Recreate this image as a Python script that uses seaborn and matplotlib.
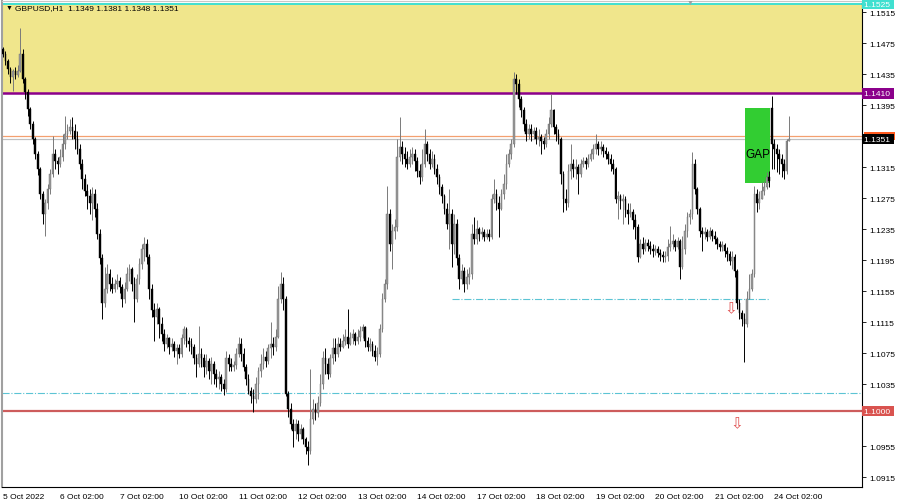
import numpy as np
import matplotlib
matplotlib.use("Agg")
import matplotlib.pyplot as plt
import matplotlib.transforms as mtransforms
from matplotlib.patches import Rectangle
import seaborn as sns

# GBPUSD H1 candles, 5 Oct 2022 -> 24 Oct 2022 08:00 (one value per hour)
first_open = 1.1467
monday_idx = 310        # first bar after the weekend gap
monday_open = 1.1391

closes = [
    1.1461, 1.1452, 1.1442, 1.1431, 1.1439, 1.1434, 1.1439, 1.1461, 1.1429, 1.1412, 1.1390, 1.1371, 1.1351, 1.1332, 1.1313, 1.1280, 1.1255, 1.1268, 1.1287, 1.1306, 1.1332, 1.1323, 1.1319, 1.1328,
    1.1345, 1.1358, 1.1362, 1.1367, 1.1362, 1.1351, 1.1338, 1.1319, 1.1300, 1.1284, 1.1277, 1.1268, 1.1280, 1.1261, 1.1229, 1.1197, 1.1139, 1.1158, 1.1177, 1.1164, 1.1158, 1.1164, 1.1168, 1.1160,
    1.1145, 1.1158, 1.1177, 1.1184, 1.1164, 1.1145, 1.1171, 1.1190, 1.1209, 1.1216, 1.1199, 1.1158, 1.1130, 1.1122, 1.1132, 1.1113, 1.1100, 1.1087, 1.1094, 1.1083, 1.1087, 1.1078, 1.1081, 1.1074,
    1.1094, 1.1106, 1.1091, 1.1087, 1.1083, 1.1068, 1.1061, 1.1074, 1.1068, 1.1057, 1.1065, 1.1052, 1.1061, 1.1048, 1.1042, 1.1044, 1.1035, 1.1029, 1.1068, 1.1061, 1.1057, 1.1060, 1.1074, 1.1087,
    1.1074, 1.1057, 1.1042, 1.1026, 1.1019, 1.1016, 1.1035, 1.1052, 1.1061, 1.1070, 1.1065, 1.1081, 1.1087, 1.1083, 1.1096, 1.1145, 1.1164, 1.1145, 1.1022, 1.1003, 1.0984, 1.0975, 1.0984, 1.0971,
    1.0977, 1.0964, 1.0954, 1.0949, 1.0990, 1.1003, 1.0997, 1.1010, 1.1035, 1.1068, 1.1061, 1.1048, 1.1068, 1.1081, 1.1074, 1.1087, 1.1083, 1.1091, 1.1096, 1.1087, 1.1094, 1.1099, 1.1091, 1.1096,
    1.1104, 1.1109, 1.1091, 1.1083, 1.1087, 1.1078, 1.1070, 1.1074, 1.1106, 1.1145, 1.1164, 1.1255, 1.1216, 1.1233, 1.1238, 1.1328, 1.1341, 1.1332, 1.1325, 1.1319, 1.1328, 1.1332, 1.1323, 1.1310,
    1.1302, 1.1319, 1.1345, 1.1332, 1.1319, 1.1325, 1.1313, 1.1302, 1.1289, 1.1277, 1.1261, 1.1242, 1.1255, 1.1216, 1.1242, 1.1197, 1.1171, 1.1181, 1.1164, 1.1173, 1.1177, 1.1229, 1.1222, 1.1235,
    1.1228, 1.1231, 1.1225, 1.1229, 1.1225, 1.1274, 1.1280, 1.1268, 1.1261, 1.1280, 1.1293, 1.1319, 1.1332, 1.1345, 1.1429, 1.1422, 1.1403, 1.1388, 1.1371, 1.1358, 1.1364, 1.1358, 1.1362, 1.1351,
    1.1354, 1.1349, 1.1345, 1.1358, 1.1371, 1.1388, 1.1367, 1.1358, 1.1351, 1.1306, 1.1274, 1.1268, 1.1310, 1.1319, 1.1313, 1.1315, 1.1306, 1.1319, 1.1323, 1.1319, 1.1325, 1.1332, 1.1338, 1.1345,
    1.1338, 1.1341, 1.1336, 1.1332, 1.1325, 1.1319, 1.1313, 1.1274, 1.1277, 1.1271, 1.1274, 1.1259, 1.1255, 1.1257, 1.1246, 1.1238, 1.1199, 1.1216, 1.1209, 1.1217, 1.1213, 1.1209, 1.1207, 1.1209,
    1.1204, 1.1202, 1.1199, 1.1200, 1.1212, 1.1216, 1.1219, 1.1212, 1.1220, 1.1186, 1.1209, 1.1233, 1.1251, 1.1255, 1.1319, 1.1287, 1.1261, 1.1233, 1.1228, 1.1231, 1.1225, 1.1233, 1.1226, 1.1222,
    1.1216, 1.1212, 1.1215, 1.1207, 1.1203, 1.1194, 1.1199, 1.1181, 1.1139, 1.1126, 1.1119, 1.1113, 1.1145, 1.1158, 1.1177, 1.1280, 1.1268, 1.1274, 1.1284, 1.1289, 1.1302, 1.1297, 1.1345, 1.1338,
    1.1332, 1.1325, 1.1319, 1.1310, 1.1349, 1.1351,
]

highs = [
    1.1470, 1.1465, 1.1455, 1.1444, 1.1442, 1.1444, 1.1447, 1.1495, 1.1467, 1.1431, 1.1416, 1.1393, 1.1375, 1.1354, 1.1336, 1.1315, 1.1284, 1.1274, 1.1293, 1.1313, 1.1355, 1.1338, 1.1328, 1.1338,
    1.1358, 1.1381, 1.1371, 1.1377, 1.1380, 1.1371, 1.1362, 1.1345, 1.1325, 1.1306, 1.1293, 1.1287, 1.1289, 1.1287, 1.1268, 1.1235, 1.1203, 1.1186, 1.1190, 1.1184, 1.1173, 1.1171, 1.1177, 1.1173,
    1.1164, 1.1167, 1.1186, 1.1190, 1.1186, 1.1173, 1.1177, 1.1197, 1.1216, 1.1225, 1.1222, 1.1203, 1.1164, 1.1139, 1.1139, 1.1135, 1.1122, 1.1106, 1.1100, 1.1096, 1.1094, 1.1091, 1.1087, 1.1087,
    1.1100, 1.1110, 1.1109, 1.1096, 1.1094, 1.1087, 1.1074, 1.1110, 1.1081, 1.1074, 1.1074, 1.1068, 1.1070, 1.1065, 1.1055, 1.1052, 1.1048, 1.1042, 1.1078, 1.1074, 1.1068, 1.1065, 1.1081, 1.1096,
    1.1094, 1.1081, 1.1061, 1.1048, 1.1031, 1.1029, 1.1044, 1.1057, 1.1074, 1.1081, 1.1078, 1.1087, 1.1115, 1.1096, 1.1106, 1.1162, 1.1180, 1.1173, 1.1148, 1.1026, 1.1010, 1.0990, 1.0990, 1.0988,
    1.0984, 1.0980, 1.0967, 1.0961, 1.1055, 1.1016, 1.1010, 1.1019, 1.1048, 1.1077, 1.1081, 1.1068, 1.1074, 1.1094, 1.1094, 1.1096, 1.1094, 1.1100, 1.1106, 1.1132, 1.1102, 1.1106, 1.1102, 1.1106,
    1.1110, 1.1113, 1.1110, 1.1096, 1.1094, 1.1091, 1.1085, 1.1083, 1.1113, 1.1152, 1.1171, 1.1291, 1.1261, 1.1242, 1.1248, 1.1351, 1.1380, 1.1349, 1.1341, 1.1336, 1.1338, 1.1341, 1.1338, 1.1328,
    1.1319, 1.1338, 1.1364, 1.1349, 1.1338, 1.1336, 1.1332, 1.1319, 1.1306, 1.1293, 1.1280, 1.1268, 1.1287, 1.1261, 1.1255, 1.1248, 1.1203, 1.1190, 1.1186, 1.1184, 1.1186, 1.1242, 1.1251, 1.1246,
    1.1238, 1.1238, 1.1235, 1.1235, 1.1235, 1.1280, 1.1300, 1.1287, 1.1277, 1.1287, 1.1306, 1.1332, 1.1338, 1.1351, 1.1438, 1.1435, 1.1429, 1.1406, 1.1393, 1.1377, 1.1371, 1.1371, 1.1367, 1.1367,
    1.1364, 1.1358, 1.1354, 1.1364, 1.1380, 1.1409, 1.1390, 1.1371, 1.1364, 1.1354, 1.1310, 1.1287, 1.1319, 1.1345, 1.1325, 1.1325, 1.1319, 1.1325, 1.1328, 1.1328, 1.1332, 1.1338, 1.1345, 1.1357,
    1.1349, 1.1348, 1.1345, 1.1341, 1.1336, 1.1332, 1.1325, 1.1315, 1.1284, 1.1280, 1.1280, 1.1277, 1.1268, 1.1268, 1.1261, 1.1255, 1.1242, 1.1222, 1.1225, 1.1222, 1.1222, 1.1219, 1.1216, 1.1215,
    1.1213, 1.1209, 1.1207, 1.1207, 1.1222, 1.1239, 1.1229, 1.1222, 1.1225, 1.1222, 1.1226, 1.1242, 1.1257, 1.1261, 1.1335, 1.1325, 1.1289, 1.1264, 1.1238, 1.1238, 1.1235, 1.1238, 1.1235, 1.1233,
    1.1225, 1.1220, 1.1220, 1.1217, 1.1212, 1.1207, 1.1207, 1.1203, 1.1184, 1.1145, 1.1130, 1.1126, 1.1155, 1.1177, 1.1184, 1.1291, 1.1287, 1.1284, 1.1296, 1.1297, 1.1309, 1.1310, 1.1407, 1.1351,
    1.1345, 1.1338, 1.1332, 1.1325, 1.1351, 1.1381,
]

lows = [
    1.1457, 1.1447, 1.1435, 1.1424, 1.1413, 1.1429, 1.1431, 1.1437, 1.1424, 1.1403, 1.1381, 1.1364, 1.1345, 1.1325, 1.1305, 1.1274, 1.1242, 1.1226, 1.1261, 1.1280, 1.1302, 1.1313, 1.1306, 1.1315,
    1.1323, 1.1338, 1.1351, 1.1358, 1.1351, 1.1338, 1.1332, 1.1313, 1.1287, 1.1277, 1.1261, 1.1255, 1.1246, 1.1251, 1.1222, 1.1190, 1.1119, 1.1135, 1.1152, 1.1155, 1.1152, 1.1154, 1.1158, 1.1153,
    1.1135, 1.1139, 1.1155, 1.1168, 1.1155, 1.1115, 1.1141, 1.1164, 1.1184, 1.1194, 1.1190, 1.1145, 1.1122, 1.1091, 1.1113, 1.1094, 1.1091, 1.1078, 1.1081, 1.1074, 1.1077, 1.1070, 1.1061, 1.1068,
    1.1070, 1.1087, 1.1083, 1.1078, 1.1074, 1.1061, 1.1044, 1.1057, 1.1057, 1.1044, 1.1048, 1.1042, 1.1035, 1.1035, 1.1031, 1.1029, 1.1026, 1.1021, 1.1025, 1.1052, 1.1052, 1.1052, 1.1055, 1.1070,
    1.1065, 1.1052, 1.1034, 1.1022, 1.1011, 1.0999, 1.1010, 1.1016, 1.1044, 1.1055, 1.1057, 1.1061, 1.1068, 1.1073, 1.1078, 1.1094, 1.1139, 1.1130, 1.1019, 1.0993, 1.0977, 1.0954, 1.0964, 1.0962,
    1.0964, 1.0957, 1.0945, 1.0930, 1.0945, 1.0984, 1.0988, 1.0993, 1.1006, 1.1029, 1.1048, 1.1042, 1.1044, 1.1061, 1.1065, 1.1070, 1.1077, 1.1081, 1.1085, 1.1081, 1.1085, 1.1087, 1.1085, 1.1087,
    1.1091, 1.1094, 1.1083, 1.1078, 1.1077, 1.1071, 1.1065, 1.1059, 1.1070, 1.1102, 1.1141, 1.1158, 1.1207, 1.1184, 1.1222, 1.1233, 1.1323, 1.1319, 1.1315, 1.1313, 1.1315, 1.1319, 1.1310, 1.1302,
    1.1293, 1.1297, 1.1315, 1.1323, 1.1313, 1.1315, 1.1306, 1.1293, 1.1280, 1.1268, 1.1255, 1.1235, 1.1209, 1.1186, 1.1203, 1.1188, 1.1158, 1.1164, 1.1154, 1.1158, 1.1164, 1.1171, 1.1216, 1.1216,
    1.1220, 1.1222, 1.1220, 1.1222, 1.1220, 1.1222, 1.1268, 1.1259, 1.1225, 1.1259, 1.1274, 1.1287, 1.1315, 1.1325, 1.1341, 1.1409, 1.1393, 1.1380, 1.1362, 1.1349, 1.1351, 1.1349, 1.1351, 1.1345,
    1.1342, 1.1332, 1.1338, 1.1341, 1.1351, 1.1367, 1.1358, 1.1349, 1.1345, 1.1293, 1.1257, 1.1259, 1.1264, 1.1300, 1.1302, 1.1300, 1.1280, 1.1302, 1.1315, 1.1313, 1.1315, 1.1323, 1.1325, 1.1332,
    1.1331, 1.1332, 1.1328, 1.1325, 1.1319, 1.1310, 1.1306, 1.1268, 1.1248, 1.1261, 1.1242, 1.1251, 1.1242, 1.1251, 1.1235, 1.1222, 1.1193, 1.1197, 1.1203, 1.1207, 1.1207, 1.1203, 1.1199, 1.1202,
    1.1199, 1.1194, 1.1193, 1.1193, 1.1194, 1.1207, 1.1209, 1.1206, 1.1209, 1.1171, 1.1184, 1.1203, 1.1225, 1.1242, 1.1248, 1.1280, 1.1255, 1.1225, 1.1206, 1.1222, 1.1220, 1.1222, 1.1219, 1.1216,
    1.1209, 1.1206, 1.1207, 1.1199, 1.1194, 1.1188, 1.1184, 1.1173, 1.1132, 1.1119, 1.1110, 1.1064, 1.1109, 1.1145, 1.1155, 1.1173, 1.1257, 1.1261, 1.1274, 1.1279, 1.1287, 1.1289, 1.1313, 1.1313,
    1.1309, 1.1306, 1.1302, 1.1300, 1.1306, 1.1348,
]

# x axis: bar index of each day label
tick_pos = [0, 23, 47, 71, 95, 119, 143, 167, 191, 215, 239, 263, 287, 311]
tick_labels = ['5 Oct 2022', '6 Oct 02:00', '7 Oct 02:00', '10 Oct 02:00', '11 Oct 02:00',
               '12 Oct 02:00', '13 Oct 02:00', '14 Oct 02:00', '17 Oct 02:00', '18 Oct 02:00',
               '19 Oct 02:00', '20 Oct 02:00', '21 Oct 02:00', '24 Oct 02:00']
price_ticks = [1.0915, 1.0955, 1.0995, 1.1035, 1.1075, 1.1115, 1.1155, 1.1195,
               1.1235, 1.1275, 1.1315, 1.1355, 1.1395, 1.1435, 1.1475, 1.1515]

# levels drawn on the chart
zone_low, zone_high = 1.1410, 1.1525
support = 1.1000
bid, ask = 1.1351, 1.1355
dashdot_low = 1.1023
dashdot_mid = 1.1145
gap_top, gap_bottom = 1.1391, 1.1294

sns.set_style("white")
plt.rcParams['font.family'] = ['Liberation Sans', 'DejaVu Sans']

closes = np.array(closes)
highs = np.array(highs)
lows = np.array(lows)
opens = np.concatenate([[first_open], closes[:-1]])
opens[monday_idx] = monday_open
x = np.arange(len(closes))
up = closes >= opens

fig = plt.figure(figsize=(9, 5.02), dpi=100)
ax = fig.add_axes([2 / 900, 14 / 502, 860 / 900, 486 / 502])

# resistance zone and levels
ax.axhspan(zone_low, zone_high, color='#f0e68c', zorder=0, lw=0)
ax.axhline(zone_high, color='#40e0d0', lw=1.4, zorder=1)
ax.axhline(zone_low, color='#8b008b', lw=1.8, zorder=1)
ax.axhline(support, color='#cd5c5c', lw=1.6, zorder=1)
ax.axhline(ask, color='#f4a070', lw=0.9, zorder=1)
ax.axhline(bid, color='#c0c0c0', lw=0.9, zorder=1)
ax.axhline(dashdot_low, color='#5cc4d4', lw=0.8, ls='-.', zorder=1)
ax.hlines(dashdot_mid, 181, 309, color='#5cc4d4', lw=0.8, ls='-.', zorder=1)

# gap box
ax.add_patch(Rectangle((299.2, gap_bottom), 10.1, gap_top - gap_bottom,
                       facecolor='#32cd32', edgecolor='none', zorder=1.5))
ax.text(299.3, 1.1332, 'GAP', fontsize=8.5, color='black', va='center', ha='left', zorder=6)

# candles
ax.vlines(x[up], lows[up], highs[up], color='#7a7a7a', lw=0.7, zorder=3)
ax.vlines(x[~up], lows[~up], highs[~up], color='black', lw=0.7, zorder=3)
ax.bar(x[up], (closes - opens)[up], bottom=opens[up], width=0.7,
       color='#999999', edgecolor='#6e6e6e', linewidth=0.3, zorder=4)
ax.bar(x[~up], (opens - closes)[~up], bottom=closes[~up], width=0.7,
       color='black', edgecolor='black', linewidth=0.3, zorder=4)

# down arrows
ax.text(293.5, 1.1133, '\u21e9', family=['DejaVu Sans'], fontsize=11, color='#e05050',
        ha='center', va='center', zorder=6)
ax.text(296, 1.0985, '\u21e9', family=['DejaVu Sans'], fontsize=11, color='#e05050',
        ha='center', va='center', zorder=6)

ax.set_xlim(-0.4, 346.4)
ax.set_ylim(1.09021, 1.15292)

# axes look; tick labels sitting under a level box are covered in the terminal
ax.yaxis.tick_right()
ax.set_yticks(price_ticks)
covered = [ask, support]
ax.set_yticklabels(['' if min(abs(p - v) for v in covered) < 0.0008 else f'{p:.4f}'
                    for p in price_ticks])
ax.set_xticks(tick_pos)
ax.set_xticklabels(tick_labels)
for lbl in ax.get_xticklabels():
    lbl.set_horizontalalignment('left')
ax.tick_params(axis='y', direction='out', length=3, width=0.6, labelsize=6, pad=2, colors='black')
ax.tick_params(axis='x', direction='out', length=3, width=0.6, labelsize=6, pad=1, colors='black')
for side in ['right', 'bottom']:
    ax.spines[side].set_color('black')
    ax.spines[side].set_linewidth(0.8)
ax.spines['left'].set_color('#a0a0a0')
ax.spines['left'].set_linewidth(1.5)
ax.spines['top'].set_color('#c8c8c8')
ax.spines['top'].set_linewidth(0.8)

# price labels on the right scale
trans = mtransforms.blended_transform_factory(ax.transAxes, ax.transData)
# ask marker mostly hidden behind the bid label
ax.add_patch(Rectangle((1.002, ask - 0.00055), 0.036, 0.0011, transform=trans,
                       facecolor='#ff5a1e', edgecolor='none', clip_on=False, zorder=9))
for val, col in [(zone_high, '#40e0d0'), (zone_low, '#8b008b'),
                 (bid, 'black'), (support, '#d9534f')]:
    ax.text(1.002, val, f'{val:.4f} ', transform=trans, fontsize=6, color='white',
            va='center', ha='left', clip_on=False, zorder=10,
            bbox=dict(boxstyle='square,pad=0.2', fc=col, ec='none'))

# header
o, h, l, c = opens[-1], highs[-1], lows[-1], closes[-1]
ax.text(0.004, 0.986, '\u25bc', transform=ax.transAxes, fontsize=5, color='black',
        va='center', ha='left', zorder=10)
ax.text(0.015, 0.986, f'GBPUSD,H1  {o:.4f} {h:.4f} {l:.4f} {c:.4f}', transform=ax.transAxes,
        fontsize=6, color='black', va='center', ha='left', zorder=10)
ax.text(0.8, 0.998, '\u25bc', transform=ax.transAxes, fontsize=5, color='#a0a0a0',
        va='center', ha='center', zorder=10)

fig.savefig('out.png', dpi=100)
